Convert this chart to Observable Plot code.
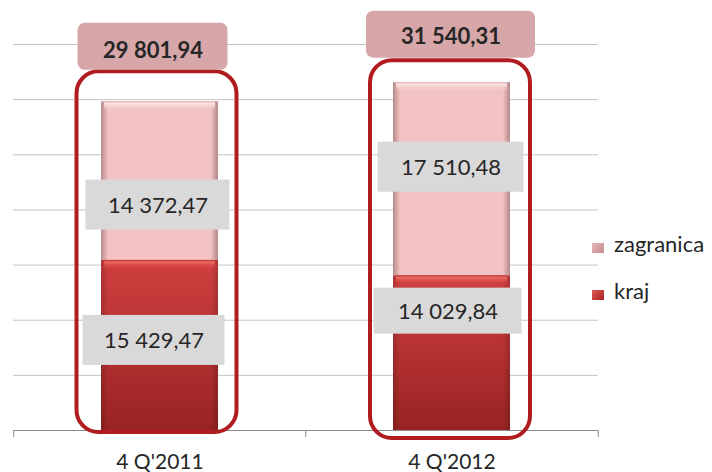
<!DOCTYPE html>
<html><head><meta charset="utf-8">
<script src="https://cdn.jsdelivr.net/npm/d3@7"></script>
<script src="https://cdn.jsdelivr.net/npm/@observablehq/plot@0.6"></script>
<style>
body{margin:0;background:#fff;font-family:Lato,"Open Sans",sans-serif;}
#wrap{position:relative;width:712px;height:472px;}
.legend{position:absolute;left:592px;font-size:22px;line-height:26px;color:#262626;display:flex;align-items:flex-start;}
.sw{width:12px;height:10px;margin-top:12px;margin-right:10px;}
</style></head><body><div id="wrap"></div>
<script>
// ---- data ----
const quarters = ["4 Q'2011", "4 Q'2012"];
const seriesNames = ["kraj", "zagranica"];
const kraj = [15429.47, 14029.84];
const zagranica = [14372.47, 17510.48];
const totals = [29801.94, 31540.31];
const yTicks = [5000, 10000, 15000, 20000, 25000, 30000, 35000];

// ---- layout / style ----
const W = 712, H = 472, mL = 13, mR = 114, mT = 44, mB = 42;
const plotW = W - mL - mR, plotH = H - mT - mB;
const halfStep = plotW / quarters.length / 2;
const textColor = "#262626";
const fmt = d3.formatLocale({decimal: ",", thousands: " ", grouping: [3], currency: ["", ""]}).format(",.2f");

// stacked table
const rows = [];
quarters.forEach((q, i) => {
  rows.push({quarter: q, series: seriesNames[0], value: kraj[i], y1: 0, y2: kraj[i]});
  rows.push({quarter: q, series: seriesNames[1], value: zagranica[i], y1: kraj[i], y2: kraj[i] + zagranica[i]});
});
rows.forEach(r => r.ymid = (r.y1 + r.y2) / 2);
const totRows = quarters.map((q, i) => ({quarter: q, total: totals[i]}));

// label offsets [dx, dy, boxW, boxH] in row order
const labelStyle = [[-6, -5, 142, 50], [-2, 24, 144, 50], [-4, -42, 148, 46], [-1, -12, 146, 50]];
// total box styling [dx, boxDy, textDy, boxW, boxH]
const totStyle = [[-7, -55, -51, 150, 47], [-1, -48, -46, 169, 47]];
// outline styling [dx, insetTop, insetBottom]
const outStyle = [[-3, -30, -2], [-1.5, -22, -8]];

const marks = [
  Plot.ruleY(yTicks, {stroke: "#c4c4c4", strokeWidth: 1}),
  // bars
  Plot.barY(rows.filter(r => r.series === "kraj"), {x: "quarter", y1: "y1", y2: "y2", fill: "url(#gRed)"}),
  Plot.barY(rows.filter(r => r.series === "zagranica"), {x: "quarter", y1: "y1", y2: "y2", fill: "url(#gPink)"}),
  Plot.barY(rows, {x: "quarter", y1: "y1", y2: "y2", fill: "url(#gEdge)"}),
  // bevels
  Plot.barY(rows.filter(r => r.series === "kraj"), {x: "quarter", y1: "y2", y2: "y2", insetBottom: -9, insetLeft: 3, insetRight: 3, fill: "url(#bevRed)"}),
  Plot.barY(rows.filter(r => r.series === "zagranica"), {x: "quarter", y1: "y2", y2: "y2", insetBottom: -10, insetLeft: 3, insetRight: 3, fill: "url(#bevPink)"}),
  // axis baseline and ticks
  Plot.ruleY([0], {stroke: "#8c8c8c", strokeWidth: 1.2}),
  Plot.ruleX(quarters, {x: d => d, dx: -halfStep, insetTop: plotH, insetBottom: -7, stroke: "#8c8c8c"}),
  Plot.ruleX([quarters[quarters.length - 1]], {x: d => d, dx: halfStep, insetTop: plotH, insetBottom: -7, stroke: "#8c8c8c"})
];

// outlines
totRows.forEach((d, i) => {
  const [dx, it, ib] = outStyle[i];
  marks.push(Plot.barY([d], {x: "quarter", y1: 0, y2: "total", dx, insetTop: it, insetBottom: ib,
    insetLeft: -21.5, insetRight: -21.5, rx: 22, fill: "none", stroke: "#b01c1f", strokeWidth: 4}));
});

// segment labels
rows.forEach((d, i) => {
  const [dx, dy, bw, bh] = labelStyle[i];
  marks.push(Plot.barY([d], {x: "quarter", y1: "ymid", y2: "ymid", dx, dy, insetTop: -bh / 2, insetBottom: -bh / 2,
    insetLeft: (117 - bw) / 2, insetRight: (117 - bw) / 2, fill: "#d9d9d9"}));
  marks.push(Plot.text([d], {x: "quarter", y: "ymid", dx, dy: dy + 1, text: r => fmt(r.value),
    fontSize: 22, fill: textColor, fontFamily: "Lato"}));
});

// total labels
totRows.forEach((d, i) => {
  const [dx, bdy, tdy, bw, bh] = totStyle[i];
  marks.push(Plot.barY([d], {x: "quarter", y1: "total", y2: "total", dx, dy: bdy, insetTop: -bh / 2, insetBottom: -bh / 2,
    insetLeft: (117 - bw) / 2, insetRight: (117 - bw) / 2, rx: 7, fill: "#d6a6a9"}));
  marks.push(Plot.text([d], {x: "quarter", y: "total", dx, dy: tdy, text: r => fmt(r.total),
    fontSize: 22, fontWeight: "bold", fill: textColor, fontFamily: "Lato"}));
});

const chart = Plot.plot({
  width: W, height: H,
  marginLeft: mL, marginRight: mR, marginTop: mT, marginBottom: mB,
  style: {fontFamily: "Lato, sans-serif", fontSize: "21px", color: textColor, background: "#fff"},
  x: {domain: quarters, paddingInner: 0.6, paddingOuter: 0.3, tickSize: 0, tickPadding: 24, label: null},
  y: {domain: [0, 35000], axis: null},
  marks
});

// gradients
const defs = d3.select(chart).insert("defs", ":first-child");
function grad(id, vertical, stops) {
  const g = defs.append("linearGradient").attr("id", id)
    .attr("x1", 0).attr("y1", 0).attr("x2", vertical ? 0 : 1).attr("y2", vertical ? 1 : 0);
  stops.forEach(([o, c, a = 1]) => g.append("stop").attr("offset", o).attr("stop-color", c).attr("stop-opacity", a));
}
grad("gRed", true, [[0, "#d03f3f"], [1, "#992323"]]);
grad("gPink", false, [[0, "#d9a4a6"], [0.06, "#f3c2c3"], [0.94, "#f3c2c3"], [1, "#d6a1a3"]]);
grad("gEdge", false, [[0, "#000", 0.16], [0.06, "#000", 0], [0.94, "#000", 0], [1, "#000", 0.16]]);
grad("bevRed", true, [[0, "#b53030"], [0.25, "#ee6a60"], [1, "#d44444", 0]]);
grad("bevPink", true, [[0, "#deaeb0"], [0.2, "#fde4e4"], [1, "#f3c2c3", 0]]);

const wrap = document.getElementById("wrap");
wrap.appendChild(chart);

// legend (zagranica above kraj)
const legendItems = [
  {name: seriesNames[1], top: 231, bg: "linear-gradient(135deg,#e8b8ba,#c48a8e)"},
  {name: seriesNames[0], top: 278, bg: "linear-gradient(135deg,#e05a55,#a82222)"}
];
legendItems.forEach(it => {
  const div = document.createElement("div");
  div.className = "legend";
  div.style.top = it.top + "px";
  const sw = document.createElement("span");
  sw.className = "sw";
  sw.style.background = it.bg;
  div.appendChild(sw);
  div.appendChild(document.createTextNode(it.name));
  wrap.appendChild(div);
});
</script>
</body></html>
